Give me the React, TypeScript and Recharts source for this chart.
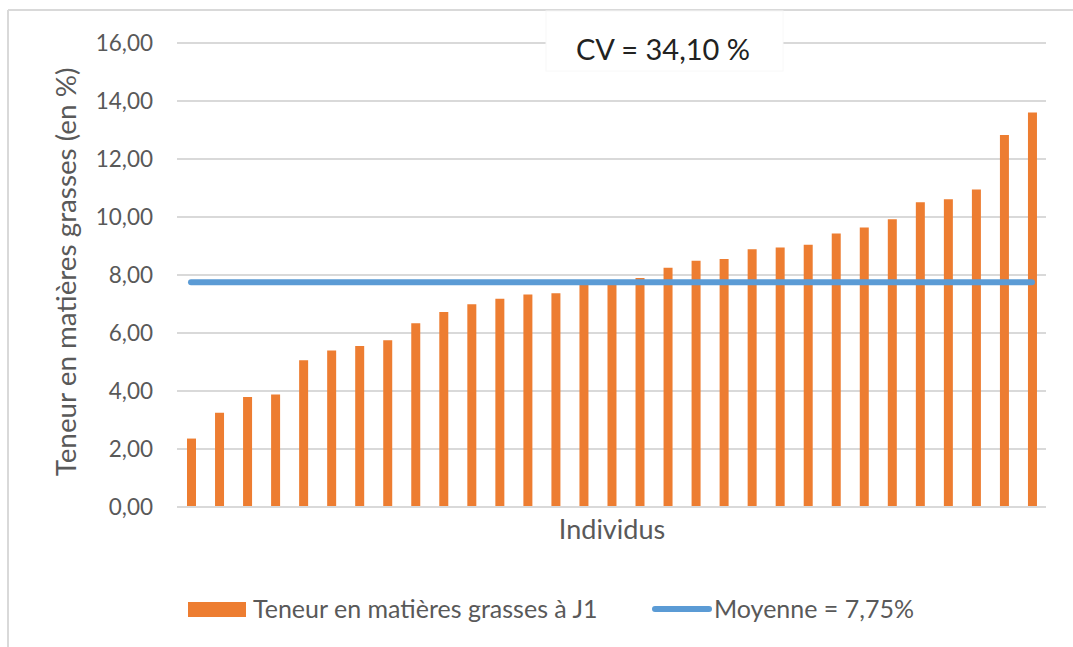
import { Bar, CartesianGrid, ComposedChart, Line, XAxis, YAxis } from "recharts";

// 31 individus, triés par teneur croissante
const individus = [
  "1", "2", "3", "4", "5", "6", "7", "8", "9", "10",
  "11", "12", "13", "14", "15", "16", "17", "18", "19", "20",
  "21", "22", "23", "24", "25", "26", "27", "28", "29", "30", "31",
];

const teneurJ1 = [
  2.36, 3.25, 3.79, 3.88, 5.06, 5.4, 5.55, 5.75, 6.34, 6.72,
  6.99, 7.18, 7.33, 7.37, 7.72, 7.8, 7.9, 8.25, 8.49, 8.55,
  8.89, 8.95, 9.04, 9.43, 9.64, 9.92, 10.51, 10.61, 10.95, 12.83, 13.6,
];

const MOYENNE = 7.75;
const yTicks = [0, 2, 4, 6, 8, 10, 12, 14, 16];

const rows = individus.map((id, i) => ({
  id,
  teneur: teneurJ1[i],
  moyenne: MOYENNE,
}));

const ORANGE = "#ED7D31";
const BLUE = "#5B9BD5";
const GRID = "#D9D9D9";
const TEXT = "#595959";
const FONT = "Lato, 'Open Sans', sans-serif";

const fmt = (v: number) => v.toFixed(2).replace(".", ",");

export default function App() {
  return (
    <div
      style={{
        position: "fixed",
        left: 0,
        top: 0,
        width: 1073,
        height: 647,
        background: "#fff",
        fontFamily: FONT,
      }}
    >
      <ComposedChart
        width={1073}
        height={647}
        data={rows}
        margin={{ top: 43, right: 27, bottom: 130, left: 0 }}
        barCategoryGap={0}
      >
        <CartesianGrid stroke={GRID} strokeWidth={2} vertical={false} />
        <XAxis
          dataKey="id"
          height={10}
          tick={false}
          tickLine={false}
          axisLine={{ stroke: GRID, strokeWidth: 2 }}
        />
        <YAxis
          width={177}
          domain={[0, 16]}
          ticks={yTicks}
          interval={0}
          tickFormatter={fmt}
          tickLine={false}
          axisLine={false}
          tickMargin={18}
          tick={{ fill: TEXT, fontSize: 22.5, fontFamily: FONT }}
        />
        <Bar
          dataKey="teneur"
          fill={ORANGE}
          barSize={9}
          isAnimationActive={false}
        />
        <Line
          dataKey="moyenne"
          stroke={BLUE}
          strokeWidth={6}
          strokeLinecap="round"
          dot={false}
          activeDot={false}
          isAnimationActive={false}
        />
      </ComposedChart>

      <svg
        width={1073}
        height={647}
        style={{ position: "absolute", left: 0, top: 0, pointerEvents: "none" }}
        fontFamily={FONT}
      >
        {/* cadre */}
        <line x1={8} y1={10} x2={1073} y2={10} stroke={GRID} strokeWidth={2} />
        <line x1={8} y1={10} x2={8} y2={647} stroke={GRID} strokeWidth={2} />

        {/* encadré CV */}
        <rect x={546} y={11} width={237} height={60} fill="#fff" stroke="#F8F8F8" />
        <text x={663} y={60} textAnchor="middle" fontSize={29} fill="#222">
          CV = 34,10 %
        </text>

        {/* titres d'axes */}
        <text
          transform="translate(76,272) rotate(-90)"
          textAnchor="middle"
          fontSize={27.8}
          fill={TEXT}
        >
          Teneur en matières grasses (en %)
        </text>
        <text x={612} y={539} textAnchor="middle" fontSize={27} fill={TEXT}>
          Individus
        </text>

        {/* légende */}
        <rect x={188} y={602} width={58} height={15} fill={ORANGE} />
        <text x={253} y={618} fontSize={25} fill={TEXT}>
          Teneur en matières grasses à J1
        </text>
        <line
          x1={655}
          y1={609}
          x2={709}
          y2={609}
          stroke={BLUE}
          strokeWidth={6}
          strokeLinecap="round"
        />
        <text x={714} y={618} fontSize={25} fill={TEXT}>
          Moyenne = 7,75%
        </text>
      </svg>
    </div>
  );
}
